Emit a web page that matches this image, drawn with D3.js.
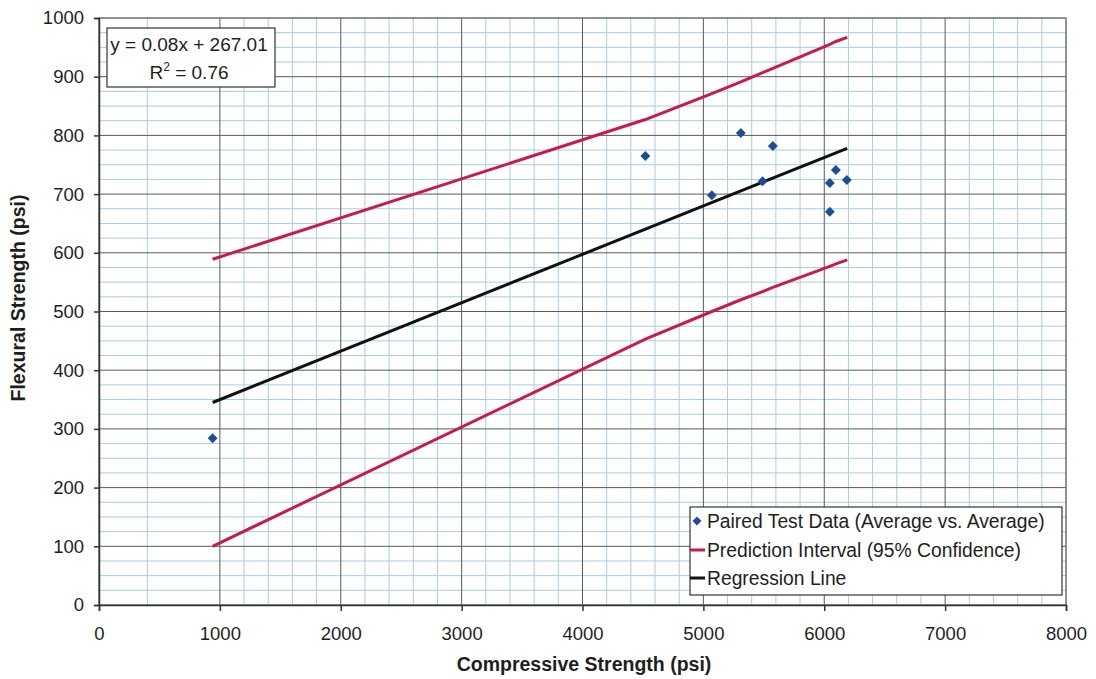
<!DOCTYPE html>
<html><head><meta charset="utf-8">
<script src="https://cdn.jsdelivr.net/npm/d3@7"></script>
<style>body{margin:0;background:#fff;}svg{display:block;font-family:"Liberation Sans",Arial,sans-serif;}</style>
</head><body><svg id="c" width="1096" height="679"></svg>
<script>
const xTicks=[0,1000,2000,3000,4000,5000,6000,7000,8000];
const yTicks=[0,100,200,300,400,500,600,700,800,900,1000];
const xMinor=[400,1200,1400,1600,1800,2200,2400,2600,2800,3200,3400,3600,3800,4200,4400,4600,4800,5200,5400,5600,5800,6200,6400,6600,6800,7200,7400,7600,7800];
const yMinor=[25,50,75,125,150,175,225,250,275,325,350,375,425,450,475,525,550,575,625,650,675,725,750,775,825,850,875,925,950,975];
const dataX=[940,4520,5070,5310,5575,5490,6096,6046,6187,6046];
const dataY=[284,765,698,804,782,722,741,719,724,670];
const piX=[940,4520,5070,5310,5490,5575,6046,6096,6190];
const piUpper=[589,827,871,891,907,914,955,960,967];
const piLower=[100,453,500,520,534,541,577,581,588];
const regX=[940,6190];
const regY=[345,778];
const legendLabels=["Paired Test Data (Average vs. Average)","Prediction Interval (95% Confidence)","Regression Line"];

const svg=d3.select("#c");
const L=99,R=1066,T=18,B=605;
const x=d3.scaleLinear().domain([0,8000]).range([L,R]);
const y=d3.scaleLinear().domain([0,1000]).range([B,T]);
const blue="#1c4f91",red="#c81b4c",ink="#1e1e1e";

const g=svg.append("g");
g.selectAll(".mx").data(xMinor).join("line").attr("x1",d=>x(d)).attr("x2",d=>x(d)).attr("y1",T).attr("y2",B).attr("stroke","#a6cde6").attr("stroke-width",1);
g.selectAll(".my").data(yMinor).join("line").attr("y1",d=>y(d)).attr("y2",d=>y(d)).attr("x1",L).attr("x2",R).attr("stroke","#a6cde6").attr("stroke-width",1);
g.selectAll(".Mx").data(xTicks).join("line").attr("x1",d=>x(d)).attr("x2",d=>x(d)).attr("y1",T).attr("y2",B).attr("stroke","#5a5a5a").attr("stroke-width",1);
g.selectAll(".My").data(yTicks).join("line").attr("y1",d=>y(d)).attr("y2",d=>y(d)).attr("x1",L).attr("x2",R).attr("stroke","#5a5a5a").attr("stroke-width",1);
g.append("rect").attr("x",L).attr("y",T).attr("width",R-L).attr("height",B-T).attr("fill","none").attr("stroke","#777");

const xa=svg.append("g").attr("transform",`translate(0,${B})`).call(d3.axisBottom(x).tickValues(xTicks).tickSize(6).tickPadding(16).tickFormat(d3.format("d")));
const ya=svg.append("g").attr("transform",`translate(${L},0)`).call(d3.axisLeft(y).tickValues(yTicks).tickSize(5).tickPadding(10).tickFormat(d3.format("d")));
[xa,ya].forEach(a=>{a.selectAll("text").attr("font-size",18.5).attr("fill",ink).attr("font-family","Liberation Sans, Arial, sans-serif");a.selectAll("line,path").attr("stroke","#333").attr("stroke-width",1.5);});

const line=d3.line().x(d=>x(d[0])).y(d=>y(d[1]));
svg.append("path").attr("d",line(d3.zip(piX,piUpper))).attr("fill","none").attr("stroke",red).attr("stroke-width",3);
svg.append("path").attr("d",line(d3.zip(piX,piLower))).attr("fill","none").attr("stroke",red).attr("stroke-width",3);
svg.append("path").attr("d",line(d3.zip(regX,regY))).attr("fill","none").attr("stroke","#111").attr("stroke-width",3);

svg.selectAll(".pt").data(d3.zip(dataX,dataY)).join("path").attr("d",d3.symbol().type(d3.symbolSquare).size(49)).attr("transform",d=>`translate(${x(d[0])},${y(d[1])}) rotate(45)`).attr("fill",blue);

// equation box
svg.append("rect").attr("x",107).attr("y",28).attr("width",168).attr("height",59).attr("fill","#fff").attr("stroke","#333").attr("stroke-width",1.2);
svg.append("text").attr("x",189).attr("y",51).attr("text-anchor","middle").attr("font-size",19).attr("fill",ink).text("y = 0.08x + 267.01");
const r2=svg.append("text").attr("x",189).attr("y",79).attr("text-anchor","middle").attr("font-size",19).attr("fill",ink);
r2.append("tspan").text("R");r2.append("tspan").attr("font-size",12).attr("dy",-8).text("2");r2.append("tspan").attr("dy",8).text(" = 0.76");

// legend
svg.append("rect").attr("x",690).attr("y",507).attr("width",372).attr("height",88).attr("fill","#fff").attr("stroke","#333").attr("stroke-width",1.2);
const ly=[521,550,578];
svg.append("path").attr("d",d3.symbol().type(d3.symbolSquare).size(40)).attr("transform",`translate(697,${ly[0]}) rotate(45)`).attr("fill",blue);
svg.append("line").attr("x1",690).attr("x2",705).attr("y1",ly[1]).attr("y2",ly[1]).attr("stroke",red).attr("stroke-width",3);
svg.append("line").attr("x1",690).attr("x2",705).attr("y1",ly[2]).attr("y2",ly[2]).attr("stroke","#111").attr("stroke-width",3);
svg.selectAll(".lt").data(legendLabels).join("text").attr("x",707).attr("y",(d,i)=>ly[i]+7).attr("font-size",19.3).attr("fill",ink).text(d=>d);

svg.append("text").attr("x",584).attr("y",671).attr("text-anchor","middle").attr("font-size",19.5).attr("font-weight","bold").attr("fill",ink).text("Compressive Strength (psi)");
svg.append("text").attr("transform","translate(25,298) rotate(-90)").attr("text-anchor","middle").attr("font-size",19.5).attr("font-weight","bold").attr("fill",ink).text("Flexural Strength (psi)");
</script></body></html>
